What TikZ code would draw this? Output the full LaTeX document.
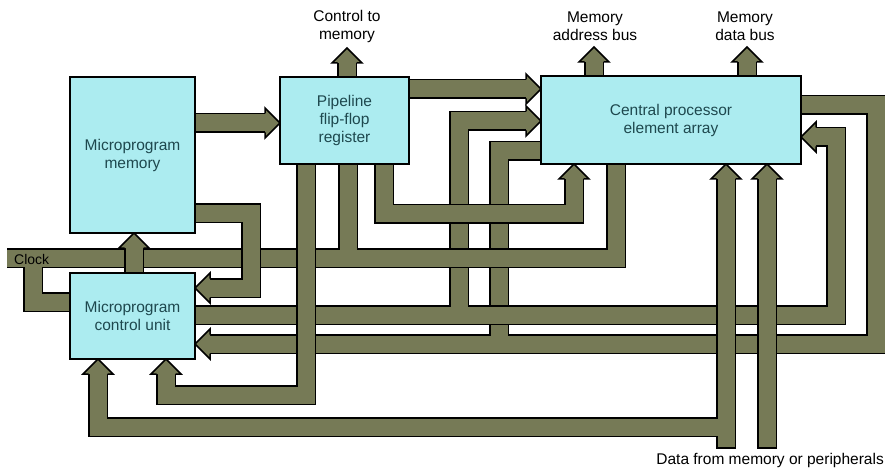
\documentclass[tikz,border=0pt]{standalone}
\usepackage{fontspec}
\setmainfont{Liberation Sans}
\definecolor{busc}{RGB}{118,122,86}
\definecolor{boxc}{RGB}{172,236,240}
\definecolor{boxt}{RGB}{30,72,78}
\newcommand\lblfont{\fontsize{15.5}{18}\selectfont}
\newcommand\busgrp[1]{\draw[busout] #1; \draw[busin] #1;}
\newcommand\bhead[2]{\begin{scope}[shift={#1},rotate=#2]\filldraw[headst] (-15,9.5) -- (-15,15) -- (0,0) -- (-15,-15) -- (-15,-9.5);\end{scope}}
\tikzset{
  busout/.style={draw=black, line width=20pt, line join=miter},
  busin/.style={draw=busc, line width=17pt, line join=miter},
  headst/.style={fill=busc, draw=black, line width=1.5pt, line join=miter},
  busend/.style={draw=black, line width=1.5pt},
  blk/.style={draw=black, line width=1.2pt, fill=boxc, text=boxt, align=center, inner sep=0pt, font=\lblfont},
  lbl/.style={align=center, font=\lblfont, inner sep=0pt},
}
\begin{document}
\begin{tikzpicture}[x=1pt,y=-1pt]
\useasboundingbox[fill=white] (0,0) rectangle (885,470);
% named coordinates for free bus ends
\coordinate (clkin) at (7,258);
\coordinate (din1) at (726,448);
\coordinate (din2) at (767,448);
\coordinate (cmtip) at (347,48);
\coordinate (mabtip) at (594,47);
\coordinate (mdbtip) at (747,47);

% CPE status outputs -> control unit
\busgrp{(801,105) -- (876,105) -- (876,344) -- (210,344) (499,344) -- (499,151) -- (541,151)}
\bhead{(195,344)}{180}
% control unit outputs -> CPE
\busgrp{(195,315) -- (836,315) -- (836,137) -- (816,137) (459,315) -- (459,121) -- (526,121)}
\bhead{(801,137)}{180}
\bhead{(541,121)}{0}
% clock bus
\busgrp{(clkin) -- (616,258) -- (616,164) (33,258) -- (33,302) -- (70,302) (348,164) -- (348,258)}
% pipeline -> CPE bottom
\busgrp{(384,164) -- (384,214) -- (574,214) -- (574,179)}
\bhead{(574,164)}{90}
% control unit -> microprogram memory
\busgrp{(134,273) -- (134,248)}
\bhead{(134,233)}{90}
% microprogram memory -> control unit
\busgrp{(195,213.5) -- (251,213.5) -- (251,288) -- (210,288)}
\bhead{(195,288)}{180}
% pipeline -> control unit
\busgrp{(306,164) -- (306,395) -- (166,395) -- (166,374)}
\bhead{(166,359)}{90}
% data from memory
\busgrp{(din1) -- (726,179) (726,427) -- (98,427) -- (98,374)}
\bhead{(726,164)}{90}
\bhead{(98,359)}{90}
\busgrp{(din2) -- (767,179)}
\bhead{(767,164)}{90}
\draw[busend] (din1) ++(-10,0) -- ++(20,0);
\draw[busend] (din2) ++(-10,0) -- ++(20,0);
% memory -> pipeline
\busgrp{(195,123) -- (265,123)}
\bhead{(280,123)}{0}
% pipeline -> control to memory
\busgrp{(347,77) -- (347,63)}
\bhead{(cmtip)}{90}
% pipeline -> CPE
\busgrp{(409,89) -- (526,89)}
\bhead{(541,89)}{0}
% CPE -> memory buses
\busgrp{(594,76) -- (594,62)}
\bhead{(mabtip)}{90}
\busgrp{(747,76) -- (747,62)}
\bhead{(mdbtip)}{90}

% boxes
\node[blk, minimum width=125pt, minimum height=156pt] (mem) at (132.5,155) {Microprogram\\memory};
\node[blk, minimum width=125pt, minimum height=86pt] (mcu) at (132.5,316) {Microprogram\\control unit};
\node[blk, minimum width=129pt, minimum height=87pt] (pipe) at (344.5,120.5) {Pipeline\\flip-flop\\register};
\node[blk, minimum width=260pt, minimum height=88pt] (cpe) at (671,120) {Central processor\\element array};

% labels
\node[lbl] (lcm) at (347,26) {Control to\\memory};
\node[lbl] (lmab) at (595,26) {Memory\\address bus};
\node[lbl] (lmdb) at (745,26) {Memory\\data bus};
\node[lbl, anchor=east] (ldata) at (884,460) {Data from memory or peripherals};
\node[lbl, anchor=west, font=\fontsize{14}{16}\selectfont] (lclk) at (14,259) {Clock};
\end{tikzpicture}
\end{document}
